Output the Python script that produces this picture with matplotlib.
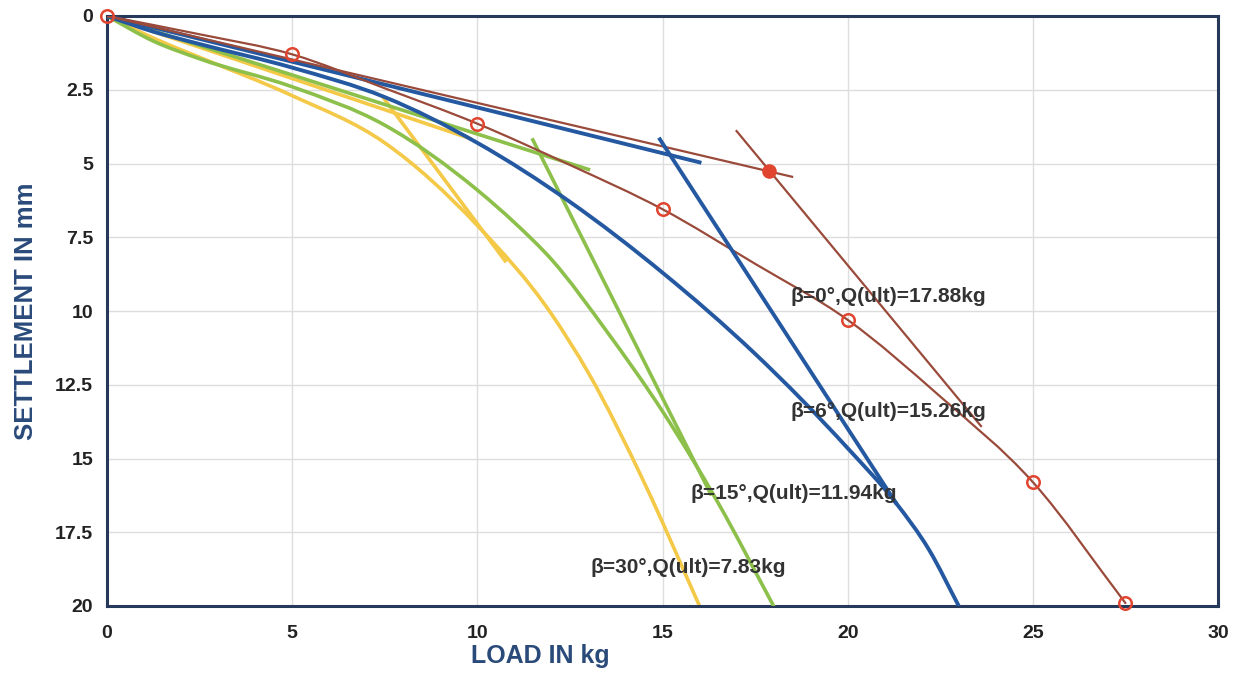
import matplotlib
matplotlib.use("Agg")
import matplotlib.pyplot as plt
from matplotlib.path import Path
from matplotlib.patches import PathPatch

# ---------------- data ----------------
# beta = 0 deg (brown) test points
b0_load = [0, 5, 10, 15, 20, 25, 27.5]
b0_settle = [0, 1.3, 3.65, 6.55, 10.3, 15.8, 19.9]
b0_curve_x = [0, 2.5, 5, 7.5, 10, 12.5, 15, 17.5, 20, 22.5, 25, 27.5]
b0_curve_y = [0, 0.62, 1.3, 2.45, 3.65, 5.05, 6.55, 8.4, 10.3, 12.9, 15.8, 19.9]
b0_t1_x, b0_t1_y = [0, 18.5], [0, 5.45]
b0_t2_x, b0_t2_y = [17.0, 23.6], [3.9, 13.9]
b0_ult = (17.88, 5.27)

# beta = 6 deg (blue)
b6_x = [0, 1.25, 2.5, 5, 7.5, 10, 12.5, 15, 17.5, 20, 21.3, 22.2, 23]
b6_y = [0, 0.53, 0.95, 1.75, 2.75, 4.3, 6.3, 8.7, 11.45, 14.65, 16.5, 18.1, 20]
b6_t1_x, b6_t1_y = [0, 16.0], [0, 4.96]
b6_t2_x, b6_t2_y = [14.93, 21.3], [4.18, 16.5]

# beta = 15 deg (green)
b15_x = [0, 1.25, 2.5, 5, 7.5, 10, 11, 12, 13.5, 15, 16.5, 18]
b15_y = [0, 0.85, 1.45, 2.4, 3.7, 5.9, 7.0, 8.25, 10.7, 13.4, 16.5, 20]
b15_t1_x, b15_t1_y = [0, 13.0], [0, 5.2]
b15_t2_x, b15_t2_y = [11.5, 16.3], [4.2, 16.2]

# beta = 30 deg (yellow)
b30_x = [0, 1.25, 2.5, 5, 7.5, 10, 12, 13, 14.5, 16]
b30_y = [0, 0.75, 1.4, 2.7, 4.3, 7.1, 10.1, 12.1, 15.8, 20]
b30_t1_x, b30_t1_y = [0, 9.8], [0, 4.15]
b30_t2_x, b30_t2_y = [7.45, 10.75], [2.75, 8.3]

labels = ["β=0°,Q(ult)=17.88kg", "β=6°,Q(ult)=15.26kg",
          "β=15°,Q(ult)=11.94kg", "β=30°,Q(ult)=7.83kg"]
label_x = [18.45, 18.45, 15.75, 13.05]
label_y = [9.5, 13.4, 16.2, 18.7]

x_ticks = [0, 5, 10, 15, 20, 25, 30]
y_ticks = [0, 2.5, 5, 7.5, 10, 12.5, 15, 17.5, 20]
y_tick_labels = ["0", "2.5", "5", "7.5", "10", "12.5", "15", "17.5", "20"]

# ---------------- styles ----------------
BROWN = "#9a4a3a"
RED = "#e0452f"
BLUE = "#2458a0"
GREEN = "#8cc04a"
YELLOW = "#f4c948"
NAVY = "#26395a"
LABEL_BLUE = "#2a4a7a"

plt.rcParams['font.family'] = ['Liberation Sans', 'DejaVu Sans']

fig = plt.figure(figsize=(12.37, 6.77), dpi=100)
ax = fig.add_axes([107/1237, 1 - 606/677, (1218-107)/1237, (606-16)/677])


def smooth_curve(ax, xs, ys, **kw):
    """Draw a smooth cubic (Hermite-as-Bezier) path through the given points."""
    n = len(xs)
    h = [xs[i + 1] - xs[i] for i in range(n - 1)]
    d = [(ys[i + 1] - ys[i]) / h[i] for i in range(n - 1)]
    m = [d[0]]
    for i in range(1, n - 1):
        m.append((h[i - 1] * d[i] + h[i] * d[i - 1]) / (h[i - 1] + h[i]))
    m.append(d[-1])
    verts = [(xs[0], ys[0])]
    codes = [Path.MOVETO]
    for i in range(n - 1):
        c1 = (xs[i] + h[i] / 3.0, ys[i] + m[i] * h[i] / 3.0)
        c2 = (xs[i + 1] - h[i] / 3.0, ys[i + 1] - m[i + 1] * h[i] / 3.0)
        verts += [c1, c2, (xs[i + 1], ys[i + 1])]
        codes += [Path.CURVE4] * 3
    patch = PathPatch(Path(verts, codes), fill=False, capstyle='round', **kw)
    ax.add_patch(patch)


# yellow
smooth_curve(ax, b30_x, b30_y, edgecolor=YELLOW, lw=2.6, zorder=2)
ax.plot(b30_t1_x, b30_t1_y, color=YELLOW, lw=2.6, zorder=2)
ax.plot(b30_t2_x, b30_t2_y, color=YELLOW, lw=2.6, zorder=2)
# green
smooth_curve(ax, b15_x, b15_y, edgecolor=GREEN, lw=2.6, zorder=3)
ax.plot(b15_t1_x, b15_t1_y, color=GREEN, lw=2.6, zorder=3)
ax.plot(b15_t2_x, b15_t2_y, color=GREEN, lw=2.6, zorder=3)
# blue
smooth_curve(ax, b6_x, b6_y, edgecolor=BLUE, lw=2.8, zorder=4)
ax.plot(b6_t1_x, b6_t1_y, color=BLUE, lw=2.8, zorder=4)
ax.plot(b6_t2_x, b6_t2_y, color=BLUE, lw=2.8, zorder=5)
# brown
smooth_curve(ax, b0_curve_x, b0_curve_y, edgecolor=BROWN, lw=1.6, zorder=4)
ax.plot(b0_t1_x, b0_t1_y, color=BROWN, lw=1.6, zorder=4)
ax.plot(b0_t2_x, b0_t2_y, color=BROWN, lw=1.6, zorder=4)
ax.plot(b0_load, b0_settle, linestyle='none', marker='o', ms=9,
        mfc='none', mec=RED, mew=1.8, zorder=6, clip_on=False)
ax.plot([b0_ult[0]], [b0_ult[1]], linestyle='none', marker='o', ms=9,
        mfc=RED, mec=RED, mew=1.5, zorder=6)

for t, tx, ty in zip(labels, label_x, label_y):
    ax.text(tx, ty, t, fontsize=15, fontweight='bold', color='#333333',
            va='center', ha='left', zorder=7)

ax.set_xlim(0, 30)
ax.set_ylim(20, 0)
ax.set_xticks(x_ticks)
ax.set_yticks(y_ticks)
ax.set_yticklabels(y_tick_labels)
ax.grid(True, color='#dddddd', lw=1.0)
ax.set_axisbelow(True)
for s in ax.spines.values():
    s.set_color(NAVY)
    s.set_linewidth(2.2)
ax.tick_params(axis='x', length=0, pad=14, labelsize=14, labelcolor='#222222')
ax.tick_params(axis='y', length=0, pad=10, labelsize=14, labelcolor='#222222')
for lab in ax.get_xticklabels() + ax.get_yticklabels():
    lab.set_fontweight('bold')

ax.set_xlabel("LOAD IN kg", fontsize=18, fontweight='bold', color=LABEL_BLUE)
ax.xaxis.set_label_coords(0.39, -0.065)
ax.set_ylabel("SETTLEMENT IN mm", fontsize=18.5, fontweight='bold', color=LABEL_BLUE)
ax.yaxis.set_label_coords(-0.062, 0.5)

fig.savefig("out.png", dpi=100)
